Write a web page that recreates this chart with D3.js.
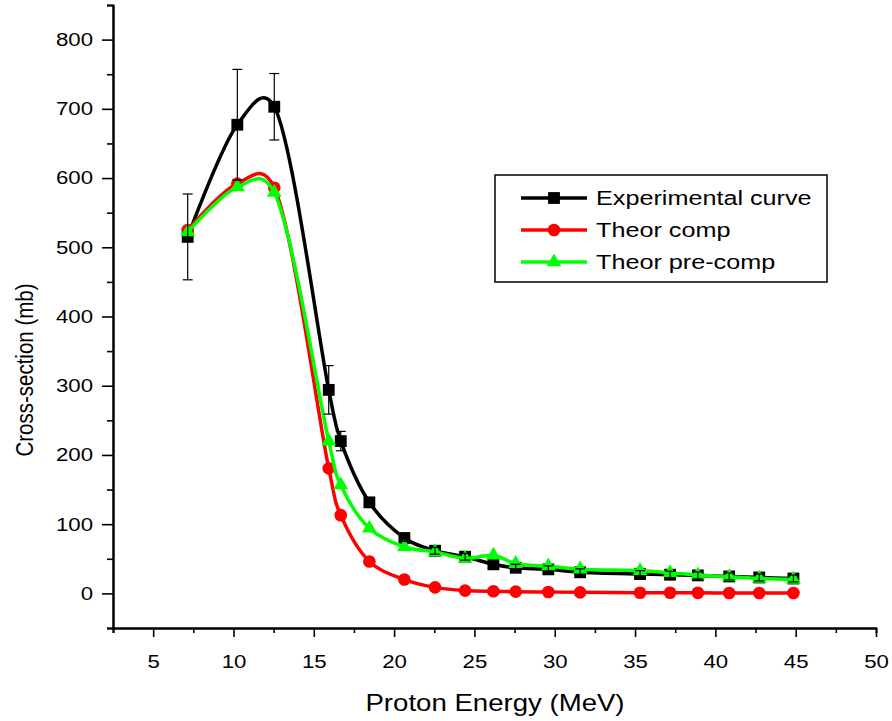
<!DOCTYPE html>
<html>
<head>
<meta charset="utf-8">
<script src="https://cdn.jsdelivr.net/npm/d3@7"></script>
<style>
  body { margin: 0; background: #fff; }
  text { font-family: "Liberation Sans", Arial, sans-serif; fill: #000; }
</style>
</head>
<body>
<script>
// Size of the page
var width = 892;
var height = 721;

// Data
var energy = [7.15, 10.24, 12.54, 15.93, 16.68, 18.46, 20.64, 22.55, 24.42, 26.18,
              27.57, 29.6, 31.58, 35.31, 37.18, 38.91, 40.86, 42.73, 44.86];
var experimental = [515, 677, 703, 294, 220, 131.5, 80, 61.6, 53, 42,
                    37, 34.7, 30.5, 27.9, 27, 26, 24.5, 23, 21.5];
var expError = [62, 80, 48, 35, 14, 6, 5, 5, 5, 5,
                5, 5, 5, 5, 5, 5, 5, 5, 5];
var theorComp = [525, 592, 586, 180.6, 113, 46, 20, 8.7, 4, 3,
                 2.5, 2, 1.5, 1, 1, 0.8, 0.6, 0.5, 0.5];
var theorPreComp = [522, 587, 579, 220, 156.5, 94, 67, 60, 50.6, 55,
                    43, 39.5, 35, 32.7, 29.8, 26.5, 24, 21.7, 20.2];

var xTicks = [5, 10, 15, 20, 25, 30, 35, 40, 45, 50];
var yTicks = [0, 100, 200, 300, 400, 500, 600, 700, 800];
var seriesNames = ["Experimental curve", "Theor comp", "Theor pre-comp"];
var seriesColors = ["#000000", "#ff0000", "#00ff00"];

var svg = d3.select("body").append("svg")
  .attr("width", width)
  .attr("height", height);

// scales
var x = d3.scaleLinear().domain([2.5, 50]).range([113, 876]);
var y = d3.scaleLinear().domain([-50, 850]).range([628, 5]);

// minor ticks first, then the major axes on top
svg.append("g")
  .attr("transform", "translate(0,628)")
  .call(d3.axisBottom(x).tickValues(d3.range(2.5, 50, 5)).tickSize(5).tickFormat(""));
svg.append("g")
  .attr("transform", "translate(113,0)")
  .call(d3.axisLeft(y).tickValues(d3.range(-50, 851, 100)).tickSize(6).tickFormat(""));

var xAxis = svg.append("g")
  .attr("transform", "translate(0,628)")
  .call(d3.axisBottom(x).tickValues(xTicks).tickSize(9).tickSizeOuter(0).tickPadding(18));
var yAxis = svg.append("g")
  .attr("transform", "translate(113,0)")
  .call(d3.axisLeft(y).tickValues(yTicks).tickSize(11).tickSizeOuter(0).tickPadding(9));

svg.selectAll(".domain").attr("stroke", "#000").attr("stroke-width", 2);
svg.selectAll(".tick line").attr("stroke", "#000").attr("stroke-width", 1.6);

// the original text looks stretched sideways, so widen it a bit
xAxis.selectAll("text")
  .attr("font-size", 18.5)
  .attr("font-family", "Liberation Sans, Arial, sans-serif")
  .attr("transform", "scale(1.2,1)");
yAxis.selectAll("text")
  .attr("font-size", 18.5)
  .attr("font-family", "Liberation Sans, Arial, sans-serif")
  .attr("x", -20 / 1.2)
  .attr("transform", "scale(1.2,1)");

// axis titles
svg.append("text")
  .attr("transform", "translate(25,370) scale(1.2,1) rotate(-90)")
  .attr("text-anchor", "middle")
  .attr("dominant-baseline", "central")
  .attr("font-size", 20.5)
  .text("Cross-section (mb)");

svg.append("text")
  .attr("transform", "translate(495,703) scale(1.2,1)")
  .attr("text-anchor", "middle")
  .attr("dominant-baseline", "central")
  .attr("font-size", 23)
  .text("Proton Energy (MeV)");

// build series
var allSeries = [experimental, theorComp, theorPreComp].map(function (vals, i) {
  return energy.map(function (e, j) { return {x: e, y: vals[j], s: i}; });
});

var line = d3.line()
  .x(function (d) { return x(d.x); })
  .y(function (d) { return y(d.y); })
  .curve(d3.curveCatmullRom.alpha(0.2));

var symbols = [
  d3.symbol().type(d3.symbolSquare).size(140),
  d3.symbol().type(d3.symbolCircle).size(125),
  d3.symbol().type(d3.symbolTriangle).size(95)
];

var plot = svg.append("g");

allSeries.forEach(function (pts, i) {
  var g = plot.append("g");
  g.append("path")
    .datum(pts)
    .attr("fill", "none")
    .attr("stroke", seriesColors[i])
    .attr("stroke-width", 3.5)
    .attr("d", line);
  g.selectAll("path.mark")
    .data(pts)
    .enter().append("path")
    .attr("class", "mark")
    .attr("d", symbols[i])
    .attr("fill", seriesColors[i])
    .attr("transform", function (d) { return "translate(" + x(d.x) + "," + y(d.y) + ")"; });
});

// error bars for the experimental points, on top
var errG = plot.append("g").attr("stroke", "#000").attr("stroke-width", 1.2);
var errData = energy.map(function (e, j) { return {x: e, y: experimental[j], err: expError[j]}; });
var capW = 5;
errG.selectAll("line.v").data(errData).enter().append("line")
  .attr("x1", function (d) { return x(d.x); })
  .attr("x2", function (d) { return x(d.x); })
  .attr("y1", function (d) { return y(d.y + d.err); })
  .attr("y2", function (d) { return y(d.y - d.err); });
errG.selectAll("line.t").data(errData).enter().append("line")
  .attr("x1", function (d) { return x(d.x) - capW; })
  .attr("x2", function (d) { return x(d.x) + capW; })
  .attr("y1", function (d) { return y(d.y + d.err); })
  .attr("y2", function (d) { return y(d.y + d.err); });
errG.selectAll("line.b").data(errData).enter().append("line")
  .attr("x1", function (d) { return x(d.x) - capW; })
  .attr("x2", function (d) { return x(d.x) + capW; })
  .attr("y1", function (d) { return y(d.y - d.err); })
  .attr("y2", function (d) { return y(d.y - d.err); });

// legend
var legend = svg.append("g");
legend.append("rect")
  .attr("x", 495).attr("y", 175)
  .attr("width", 332).attr("height", 107)
  .attr("fill", "#fff")
  .attr("stroke", "#000")
  .attr("stroke-width", 1.5);

var rowY = [198, 230, 262];
seriesNames.forEach(function (name, i) {
  legend.append("line")
    .attr("x1", 521).attr("x2", 587)
    .attr("y1", rowY[i]).attr("y2", rowY[i])
    .attr("stroke", seriesColors[i])
    .attr("stroke-width", 3.5);
  legend.append("path")
    .attr("d", symbols[i])
    .attr("fill", seriesColors[i])
    .attr("transform", "translate(554," + rowY[i] + ")");
  legend.append("text")
    .attr("transform", "translate(596," + rowY[i] + ") scale(1.2,1)")
    .attr("dominant-baseline", "central")
    .attr("font-size", 21)
    .text(name);
});
</script>
</body>
</html>
